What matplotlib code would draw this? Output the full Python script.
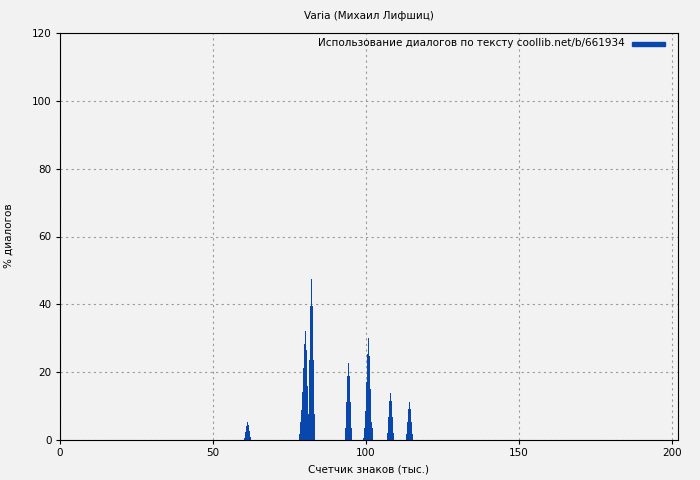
import numpy as np
import matplotlib
matplotlib.use('Agg')
import matplotlib.pyplot as plt

# character counter (thousands) and % of dialogs
x1 = [60.1, 60.4, 60.8, 61.1, 61.4, 61.8, 62.1]
h1 = [0.5, 2.4, 4.1, 5.3, 4.4, 2.7, 1.0]
x2 = [78.1, 78.4, 78.8, 79.1, 79.4, 79.8, 80.1, 80.4, 80.7, 81.1, 81.4, 81.7, 82.0, 82.4, 82.7, 83.0]
h2 = [1.8, 5.3, 8.8, 14.2, 21.2, 28.3, 32.1, 26.5, 15.9, 7.7, 23.6, 39.5, 47.5, 39.5, 23.6, 7.7]
x3 = [93.1, 93.5, 93.8, 94.1, 94.4, 94.8, 95.1]
h3 = [3.5, 11.2, 18.9, 22.7, 18.9, 11.2, 3.5]
x4 = [99.0, 99.3, 99.7, 100.0, 100.3, 100.7, 101.0, 101.3, 101.6, 102.0]
h4 = [0.6, 3.5, 8.5, 17.0, 25.3, 30.0, 24.8, 15.0, 5.3, 3.5]
x5 = [106.9, 107.2, 107.5, 107.8, 108.2, 108.5, 108.8]
h5 = [2.0, 6.8, 11.5, 13.9, 11.5, 6.8, 2.0]
x6 = [113.1, 113.4, 113.7, 114.1, 114.4, 114.7, 115.0]
h6 = [1.8, 5.3, 9.1, 11.2, 9.1, 5.3, 1.8]

xs = x1 + x2 + x3 + x4 + x5 + x6
hs = h1 + h2 + h3 + h4 + h5 + h6

bg = '#f2f2f2'
blue = '#0a47ad'
fs = 7.5

fig = plt.figure(figsize=(7, 4.8), dpi=100, facecolor=bg)
ax = fig.add_axes([60 / 700, 1 - 440 / 480, 618 / 700, 407 / 480])
ax.set_facecolor(bg)

ax.bar(xs, hs, width=0.34, align='edge', color=blue, linewidth=0)

ax.set_xlim(0, 202)
ax.set_ylim(0, 120)
ax.set_xticks([0, 50, 100, 150, 200])
ax.set_yticks(np.arange(0, 121, 20))
ax.tick_params(labelsize=fs, direction='out', length=3, pad=3)
ax.grid(True, color='#999999', linestyle=(0, (2, 3)), linewidth=0.8)
ax.set_axisbelow(True)
for s in ax.spines.values():
    s.set_linewidth(0.8)

fig.text(0.527, 1 - 470 / 480, 'Счетчик знаков (тыс.)', ha='center', va='center', fontsize=fs)
fig.text(9 / 700, 1 - 236 / 480, '% диалогов', rotation=90, ha='center', va='center', fontsize=fs)
fig.text(0.527, 1 - 16 / 480, 'Varia (Михаил Лифшиц)', ha='center', va='center', fontsize=fs)

# legend: text then a thick blue bar, as in the source
fig.text(625 / 700, 1 - 43 / 480, 'Использование диалогов по тексту coollib.net/b/661934',
         ha='right', va='center', fontsize=fs)
fig.patches.append(plt.Rectangle((632 / 700, 1 - 45.5 / 480), 33 / 700, 4 / 480,
                                 transform=fig.transFigure, color=blue, figure=fig))

fig.savefig('out.png', dpi=100, facecolor=bg)
